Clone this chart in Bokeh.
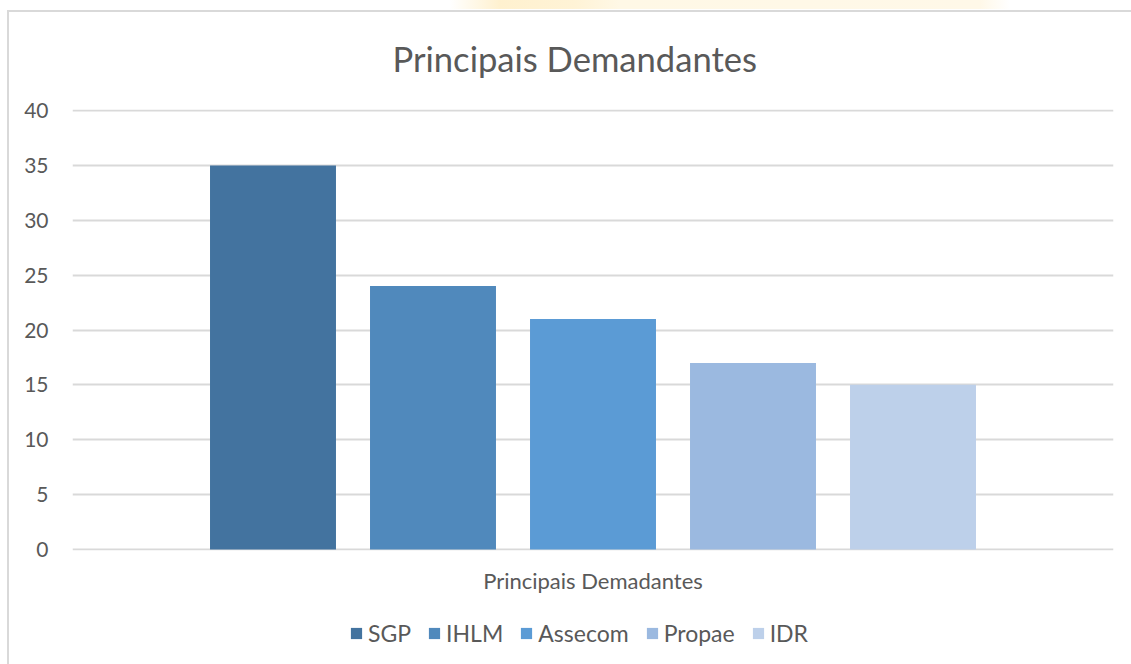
from bokeh.plotting import figure
from bokeh.layouts import column
from bokeh.models import FactorRange, Range1d, Legend, LegendItem, FixedTicker
from bokeh.transform import dodge
from bokeh.embed import file_html
from bokeh.resources import INLINE

# ---- data ----
category = ["Principais Demadantes"]
series = ["SGP", "IHLM", "Assecom", "Propae", "IDR"]
values = [35, 24, 21, 17, 15]
colors = ["#43739F", "#5089BC", "#5B9BD5", "#9BB9E0", "#BDD0EA"]
y_ticks = [0, 5, 10, 15, 20, 25, 30, 35, 40]
title_text = "Principais Demandantes"

FONT = "Lato"
TXT = "#595959"
GRID = "#d9d9d9"

# ---------- main chart ----------
p = figure(
    width=1131, height=608,
    x_range=FactorRange(factors=category, range_padding=0),
    y_range=Range1d(-0.1, 40.1),
    output_backend="svg", toolbar_location=None,
    min_border_left=72, min_border_right=18,
    min_border_top=109, min_border_bottom=58,
)
p.border_fill_alpha = 0
p.background_fill_color = "white"

p.title.text = title_text
p.title.align = "left"
p.title.offset = 320
p.title.vertical_align = "middle"
p.title.text_font = FONT
p.title.text_font_size = "34.6px"
p.title.text_font_style = "normal"
p.title.text_color = TXT
p.title.standoff = 60

p.outline_line_color = None
p.xgrid.grid_line_color = None
p.ygrid.grid_line_color = GRID
p.ygrid.grid_line_width = 2
p.yaxis.ticker = FixedTicker(ticks=y_ticks)

for ax in (p.xaxis[0], p.yaxis[0]):
    ax.axis_line_color = None
    ax.major_tick_line_color = None
    ax.minor_tick_line_color = None
    ax.major_label_text_font = FONT
    ax.major_label_text_font_size = "22px"
    ax.major_label_text_color = TXT
p.yaxis.major_label_text_font_size = "21px"
p.yaxis.major_label_standoff = 18
p.xaxis.major_label_standoff = 10

n = len(series)
step = 0.1537
bw = 0.121
for i, (s, v, c) in enumerate(zip(series, values, colors)):
    p.vbar(x=dodge("cat", (i - (n - 1) / 2) * step, range=p.x_range),
           top="val", width=bw, bottom=0,
           source={"cat": category, "val": [v]},
           fill_color=c, line_color=None)

# ---------- legend strip ----------
lg = figure(
    width=1131, height=56,
    x_range=FactorRange(factors=category), y_range=Range1d(1000, 1001),
    x_axis_type=None, y_axis_type=None,
    output_backend="svg", toolbar_location=None,
    min_border=0,
)
lg.border_fill_alpha = 0
lg.background_fill_alpha = 0
lg.outline_line_color = None
lg.xgrid.visible = False
lg.ygrid.visible = False
items = []
for i, (s, v, c) in enumerate(zip(series, values, colors)):
    r = lg.vbar(x="cat", top="val", width=0.1, bottom=0,
                source={"cat": category, "val": [v]},
                fill_color=c, line_color=None)
    items.append(LegendItem(label=s, renderers=[r]))

legend = Legend(items=items, orientation="horizontal", location=(277, 17),
                label_text_font=FONT, label_text_font_size="23px",
                label_text_color=TXT, glyph_width=14, glyph_height=14,
                label_standoff=5, spacing=16, border_line_color=None,
                background_fill_alpha=0, margin=0, padding=0)
lg.add_layout(legend, "center")

layout = column(p, lg, spacing=0)
layout.styles = {
    "background": (
        "linear-gradient(#d9d9d9,#d9d9d9) 7px 10px / 2px 100% no-repeat,"
        "linear-gradient(#d9d9d9,#d9d9d9) 7px 10px / 100% 2px no-repeat,"
        "linear-gradient(to right, rgba(255,240,200,0) 450px, #FFF1CF 500px, "
        "#FFF3D6 575px, #FFF8E6 620px, #FFF8E8 980px, rgba(255,248,232,0) 1010px)"
        " 0 0 / 100% 9px no-repeat,"
        "white"
    )
}

open("out.html", "w").write(file_html(layout, INLINE))
